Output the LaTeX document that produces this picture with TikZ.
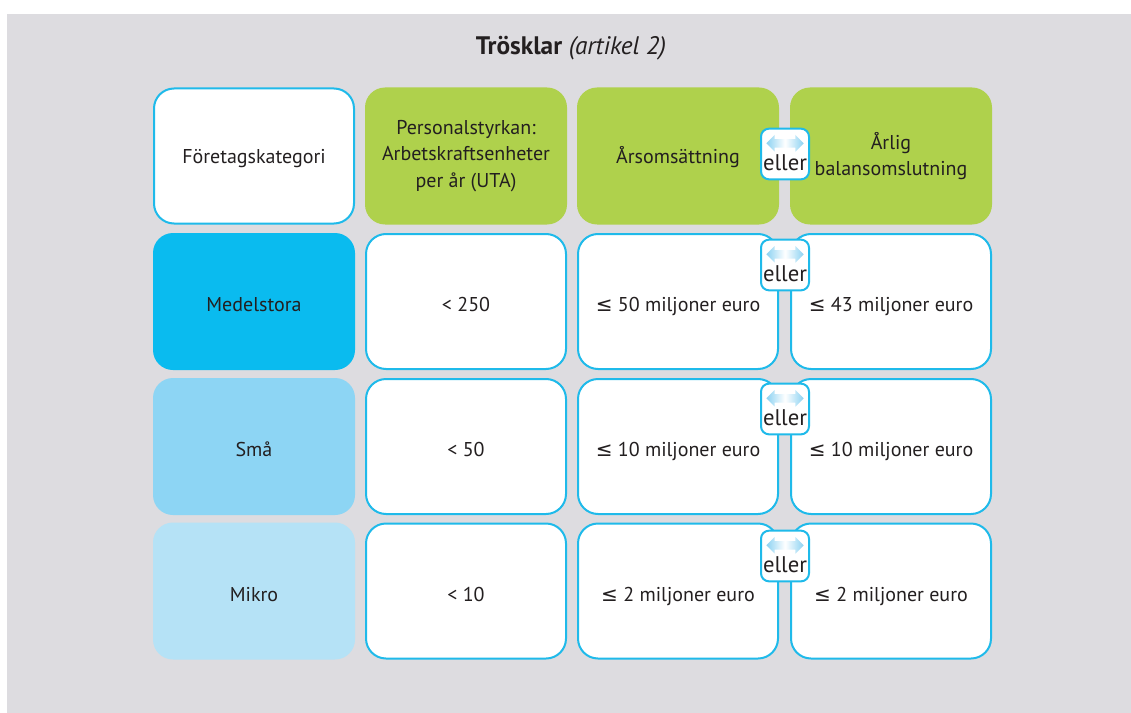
\documentclass[tikz,border=0pt]{standalone}
\usepackage{fontspec}
\setmainfont{PT Sans}
\newfontfamily\symfont{DejaVu Sans}
\usetikzlibrary{shapes.arrows,positioning}

\definecolor{bggray}{HTML}{DDDCE0}
\definecolor{headgreen}{HTML}{AFD14C}
\definecolor{cyanline}{HTML}{1FBAEA}
\definecolor{medelblue}{HTML}{0ABBEF}
\definecolor{smablue}{HTML}{8DD5F4}
\definecolor{mikroblue}{HTML}{B5E2F6}
\definecolor{arrowblue}{HTML}{8CD2F2}
\definecolor{txtdark}{HTML}{231F20}

\newcommand{\lte}{{\symfont\char"2264}}

\tikzset{
  cell/.style={rounded corners=15pt, minimum width=151.5pt, minimum height=102.75pt,
    align=center, inner sep=0pt, text=txtdark, font=\fontsize{15}{20}\selectfont},
  whitecell/.style={cell, fill=white, draw=cyanline, line width=1.5pt,
    minimum width=150pt, minimum height=101.25pt},
  greencell/.style={cell, fill=headgreen},
  onerow/.style={text height=11pt, text depth=0pt},
  lowrow/.style={text height=15pt, text depth=0pt},
  ellerbox/.style={draw=cyanline, fill=white, line width=1.5pt, rounded corners=6pt,
    minimum width=36pt, minimum height=38pt, inner sep=0pt},
  ellertext/.style={text=txtdark, inner sep=0pt, font=\fontsize{17}{19}\selectfont},
  twoway/.style={double arrow, minimum width=12.5pt, minimum height=28pt,
    double arrow head extend=3pt, inner xsep=0pt, inner ysep=3pt,
    left color=arrowblue, right color=arrowblue, middle color=white}
}

\begin{document}
\begin{tikzpicture}[x=0.75pt,y=-0.75pt]
  \useasboundingbox (0,0) rectangle (1131,713);
  \fill[bggray] (7,14) rectangle (1131,713);

  % title
  \node[text=txtdark, font=\fontsize{19}{22}\selectfont] (title) at (571,48)
    {\textbf{Trösklar} \textit{(artikel 2)}};

  % header row
  \node[whitecell, onerow] (h1) at (254,156) {Företagskategori};
  \node[greencell] (h2) at (466,156) {Personalstyrkan:\\Arbetskraftsenheter\\per år (UTA)};
  \node[greencell, onerow] (h3) at (678,156) {Årsomsättning};
  \node[greencell] (h4) at (891,156) {Årlig\\balansomslutning};

  % medelstora
  \node[cell, lowrow, fill=medelblue] (m1) at (254,301.5) {Medelstora};
  \node[whitecell, lowrow] (m2) at (466,301.5) {< 250};
  \node[whitecell, lowrow] (m3) at (678,301.5) {\lte{} 50 miljoner euro};
  \node[whitecell, lowrow] (m4) at (891,301.5) {\lte{} 43 miljoner euro};

  % sma
  \node[cell, lowrow, fill=smablue] (s1) at (254,446.5) {Små};
  \node[whitecell, lowrow] (s2) at (466,446.5) {< 50};
  \node[whitecell, lowrow] (s3) at (678,446.5) {\lte{} 10 miljoner euro};
  \node[whitecell, lowrow] (s4) at (891,446.5) {\lte{} 10 miljoner euro};

  % mikro
  \node[cell, lowrow, fill=mikroblue] (k1) at (254,591) {Mikro};
  \node[whitecell, lowrow] (k2) at (466,591) {< 10};
  \node[whitecell, lowrow] (k3) at (678,591) {\lte{} 2 miljoner euro};
  \node[whitecell, lowrow] (k4) at (891,591) {\lte{} 2 miljoner euro};

  % eller boxes
  \foreach \n/\y in {e0/154, e1/265, e2/409, e3/556} {
    \node[ellerbox] (\n) at (785,\y) {};
    \node[twoway] (\n a) at ([yshift=8pt]\n.center) {};
    \node[ellertext] (\n t) at ([yshift=-6.5pt]\n.center) {eller};
  }
\end{tikzpicture}
\end{document}
